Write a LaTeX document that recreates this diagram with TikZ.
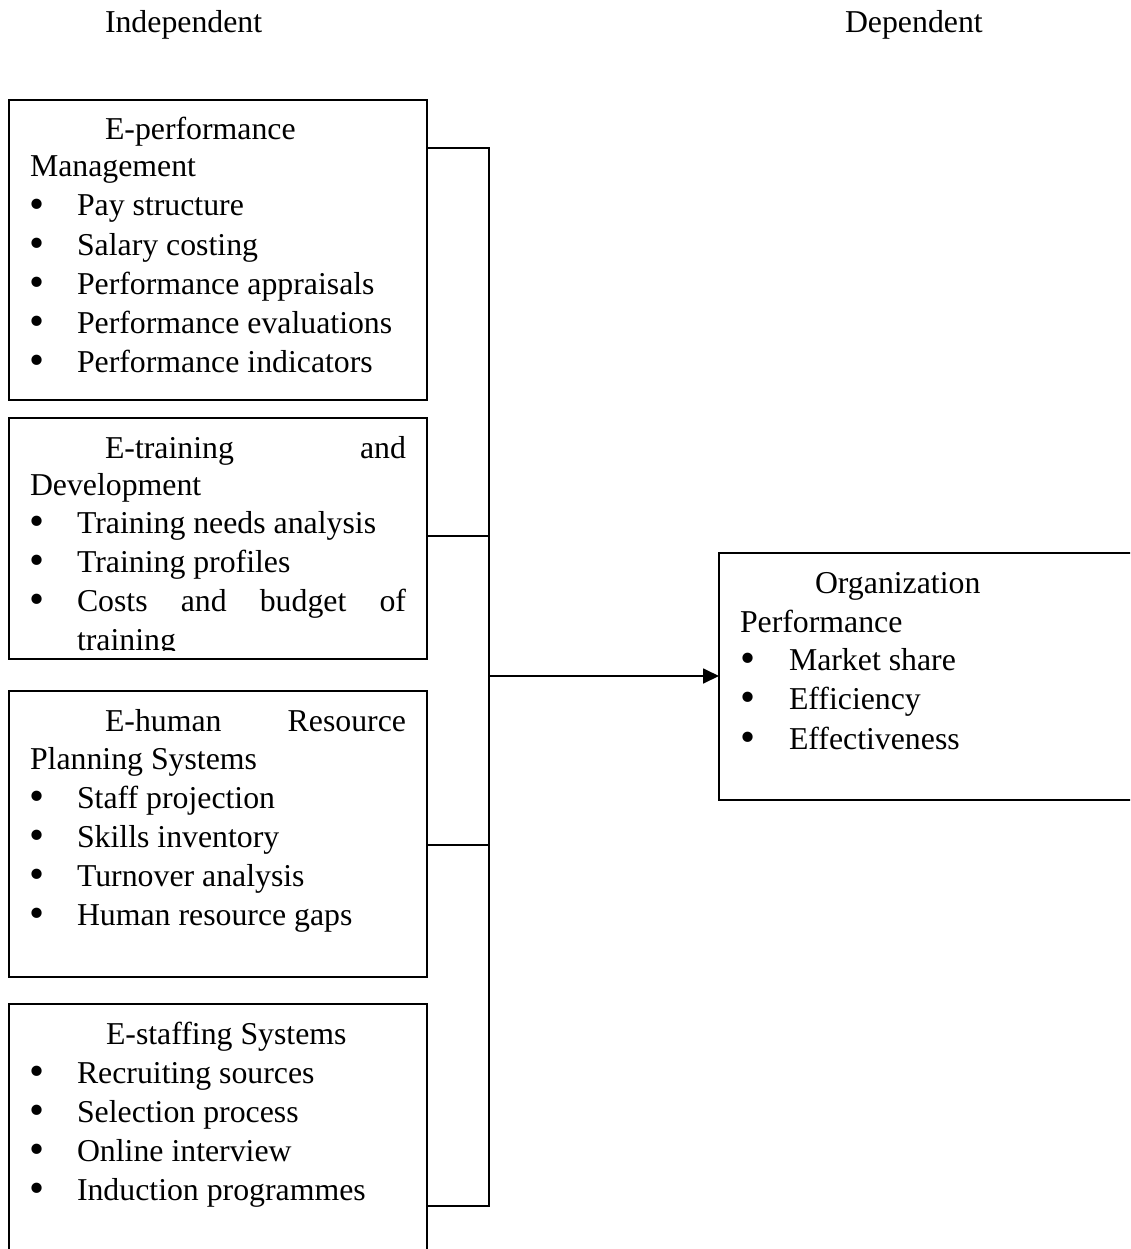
\documentclass[tikz,border=0pt]{standalone}
\usepackage{fontspec}
\setmainfont{Liberation Serif}
\usetikzlibrary{arrows.meta}
\newcommand\mainfs{\fontsize{31.8}{38}\selectfont}
\newcommand\tl[4]{\node[txt] (#1) at (#2,-#3) {#4};}
\newcommand\bt[3]{\node[bul] (#1) at (#2,{-#3+7.5}) {\scalebox{1.35}{\textbullet}};}
\begin{document}
\begin{tikzpicture}[x=1pt,y=1pt,
  txt/.style={anchor=base west,inner sep=0pt,outer sep=0pt,font=\mainfs},
  bul/.style={anchor=center,inner sep=0pt,outer sep=0pt,font=\mainfs},
  boxst/.style={draw,line width=1.8pt,anchor=north west,inner sep=0pt,outer sep=0pt,minimum width=418pt},
  conn/.style={line width=1.8pt,line join=miter}]
\clip (0,0) rectangle (1130,-1249);
\fill[white] (0,0) rectangle (1130,-1249);

% headers
\tl{indep}{105}{33}{Independent}
\tl{dep}{845}{33}{Dependent}

% boxes
\node[boxst,minimum height=300pt] (b1) at (9,-100) {};
\node[boxst,minimum height=241pt] (b2) at (9,-418) {};
\node[boxst,minimum height=286pt] (b3) at (9,-691) {};
\node[boxst,minimum height=290pt] (b4) at (9,-1004) {};
\node[boxst,minimum width=440pt,minimum height=247pt] (org) at (719,-553) {};

% box 1
\tl{t11}{105}{140}{E-performance}
\tl{t12}{30}{177}{Management}
\bt{p13}{37}{216}\tl{t13}{77}{216}{Pay structure}
\bt{p14}{37}{255}\tl{t14}{77}{255}{Salary costing}
\bt{p15}{37}{294}\tl{t15}{77}{294}{Performance appraisals}
\bt{p16}{37}{333}\tl{t16}{77}{333}{Performance evaluations}
\bt{p17}{37}{372}\tl{t17}{77}{372}{Performance indicators}

% box 2 (text clipped at bottom)
\begin{scope}
\clip (9,-418) rectangle (427,-650);
\tl{t21}{105}{458}{\hbox to 301pt{E-training\hfill and}}
\tl{t22}{30}{495}{Development}
\bt{p23}{37}{533}\tl{t23}{77}{533}{Training needs analysis}
\bt{p24}{37}{572}\tl{t24}{77}{572}{Training profiles}
\bt{p25}{37}{611}\tl{t25}{77}{611}{\hbox to 329pt{Costs\hfill and\hfill budget\hfill of}}
\tl{t26}{77}{650}{training}
\end{scope}

% box 3
\tl{t31}{105}{731}{\hbox to 301pt{E-human\hfill Resource}}
\tl{t32}{30}{769}{Planning Systems}
\bt{p33}{37}{808}\tl{t33}{77}{808}{Staff projection}
\bt{p34}{37}{847}\tl{t34}{77}{847}{Skills inventory}
\bt{p35}{37}{886}\tl{t35}{77}{886}{Turnover analysis}
\bt{p36}{37}{925}\tl{t36}{77}{925}{Human resource gaps}

% box 4
\tl{t41}{106}{1044}{E-staffing Systems}
\bt{p42}{37}{1083}\tl{t42}{77}{1083}{Recruiting sources}
\bt{p43}{37}{1122}\tl{t43}{77}{1122}{Selection process}
\bt{p44}{37}{1161}\tl{t44}{77}{1161}{Online interview}
\bt{p45}{37}{1200}\tl{t45}{77}{1200}{Induction programmes}

% organization box
\tl{o1}{815}{593}{Organization}
\tl{o2}{740}{632}{Performance}
\bt{q3}{748}{670}\tl{o3}{789}{670}{Market share}
\bt{q4}{748}{709}\tl{o4}{789}{709}{Efficiency}
\bt{q5}{748}{749}\tl{o5}{789}{749}{Effectiveness}

% connectors
\coordinate (j1) at (489,-148);
\coordinate (j2) at (489,-536);
\coordinate (j3) at (489,-845);
\coordinate (j4) at (489,-1206);
\coordinate (ja) at (489,-676);
\draw[conn] (b1.east |- j1) -- (j1) -- (j4) -- (b4.east |- j4);
\draw[conn] (b2.east |- j2) -- (j2);
\draw[conn] (b3.east |- j3) -- (j3);
\draw[conn,-{Triangle[length=16pt,width=15pt]}] (ja) -- (org.west |- ja);
\end{tikzpicture}
\end{document}
